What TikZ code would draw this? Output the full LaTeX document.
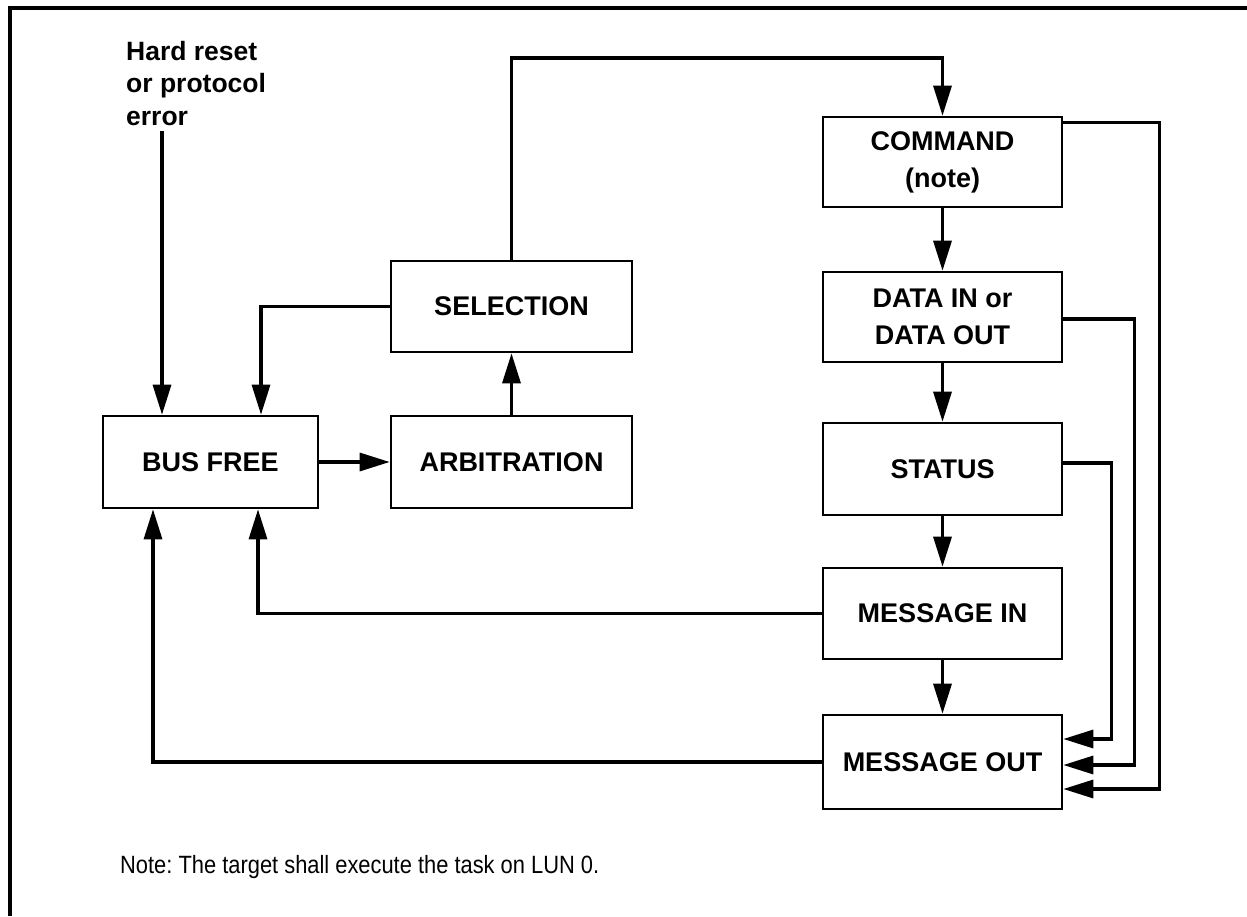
\documentclass[tikz,border=0pt]{standalone}
\usepackage{fontspec}
\setmainfont{Liberation Sans}
\newfontfamily\notefont[FakeStretch=0.875]{Liberation Sans}
\usetikzlibrary{arrows.meta,calc}
\begin{document}
\frenchspacing
\begin{tikzpicture}[x=1pt,y=-1pt,
  box/.style={draw, line width=2.6pt, inner sep=0pt, align=center,
    font=\fontsize{27}{37}\selectfont\bfseries},
  conn/.style={line width=3.2pt},
  arr/.style={conn, -{Triangle[length=30pt,width=18pt]}},
  lbl/.style={inner sep=0pt, align=left, font=\fontsize{26.5}{32.5}\selectfont\bfseries},
  notetext/.style={inner sep=0pt, font=\notefont\fontsize{25}{30}\selectfont},
]
\useasboundingbox (0,0) rectangle (1247,916);
\draw[line width=3.4pt] (10,916) -- (10,8) -- (1247,8);

\node[box, minimum width=215pt, minimum height=92pt] (bus) at (210.5,462) {BUS FREE};
\node[box, minimum width=241pt, minimum height=92pt] (arb) at (511.5,462) {ARBITRATION};
\node[box, minimum width=241pt, minimum height=91pt] (sel) at (511.5,306.5) {SELECTION};
\node[box, minimum width=239pt, minimum height=90pt] (cmd) at (942.5,162) {COMMAND\\(note)};
\node[box, minimum width=239pt, minimum height=90pt] (data) at (942.5,317) {DATA IN or\\DATA OUT};
\node[box, minimum width=239pt, minimum height=92pt] (stat) at (942.5,469) {STATUS};
\node[box, minimum width=239pt, minimum height=91pt] (min) at (942.5,613.5) {MESSAGE IN};
\node[box, minimum width=239pt, minimum height=94pt] (mout) at (942.5,762) {MESSAGE OUT};

\node[lbl, anchor=north west] (hard) at (126,41) {Hard reset\\or protocol\\error};
\node[notetext, anchor=base west] (note) at (120,873) {Note: The target shall execute the task on LUN 0.};

\coordinate (hr) at (162,131);
\coordinate (top) at (0,58);
\coordinate (b2) at (261,0);
\coordinate (b3) at (258,0);
\coordinate (b4) at (153,0);

\draw[arr] (hr) -- (hr |- bus.north);
\draw[arr] (bus.east) -- (arb.west);
\draw[arr] (arb.north) -- (sel.south);
\draw[arr] (sel.west) -| (b2 |- bus.north);
\draw[arr] (sel.north) -- (sel.north |- top) -- (cmd.north |- top) -- (cmd.north);
\draw[arr] (cmd.south) -- (data.north);
\draw[arr] (data.south) -- (stat.north);
\draw[arr] (stat.south) -- (min.north);
\draw[arr] (min.south) -- (mout.north);
\draw[arr] (min.west) -| (b3 |- bus.south);
\draw[arr] (mout.west) -| (b4 |- bus.south);
\draw[arr] ($(cmd.north east)+(0,7)$) -- ++(96,0) |- ($(mout.east)+(0,27)$);
\draw[arr] ($(data.east)+(0,2)$) -- ++(71,0) |- ($(mout.east)+(0,3)$);
\draw[arr] ($(stat.east)+(0,-6)$) -- ++(48,0) |- ($(mout.east)+(0,-23)$);
\end{tikzpicture}
\end{document}
